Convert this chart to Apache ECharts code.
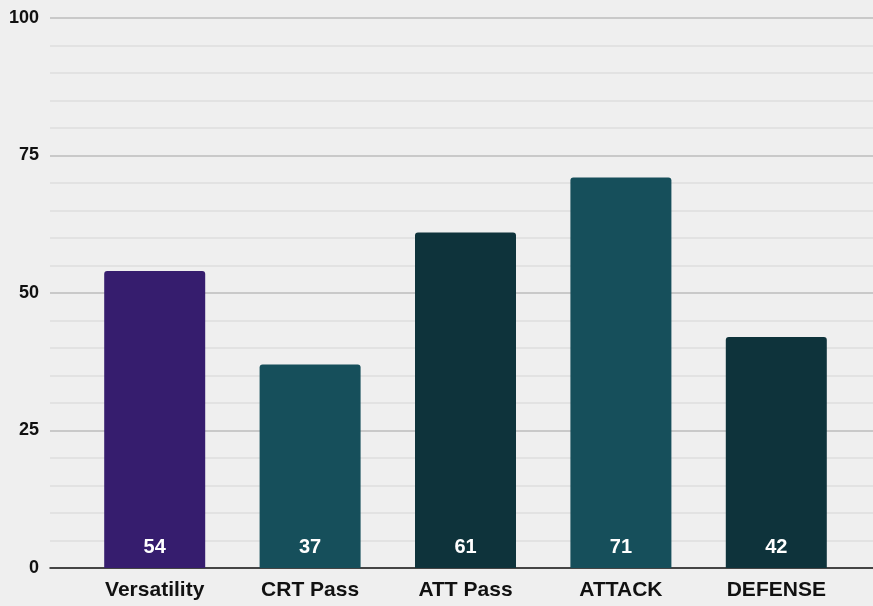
<!DOCTYPE html>
<html>
<head>
<meta charset="utf-8">
<style>
  html, body { margin: 0; padding: 0; background: #efefef; }
  #chart { width: 873px; height: 606px; }
</style>
<script src="https://cdn.jsdelivr.net/npm/echarts@6/dist/echarts.min.js"></script>
</head>
<body>
<div id="chart"></div>
<script>
var categories = ['Versatility', 'CRT Pass', 'ATT Pass', 'ATTACK', 'DEFENSE'];
var values = [54, 37, 61, 71, 42];
var barColors = ['#361d6e', '#164f5b', '#0e333b', '#164f5b', '#0e333b'];
var yTicks = [0, 25, 50, 75, 100];

var chart = echarts.init(document.getElementById('chart'));

var option = {
    backgroundColor: '#efefef',
    animation: false,
    grid: [
        // grid 0: only the gridlines + y labels across the full width
        { left: 50, right: 0, top: 18, bottom: 38 },
        // grid 1: the bars
        { left: 77, right: 19, top: 18, bottom: 38 }
    ],
    xAxis: [
        {
            gridIndex: 0,
            type: 'category',
            data: [''],
            axisLine: { show: true, lineStyle: { color: '#1a1a1a', width: 1.5 } },
            axisTick: { show: false },
            axisLabel: { show: false }
        },
        {
            gridIndex: 1,
            type: 'category',
            data: categories,
            axisLine: { show: false },
            axisTick: { show: false },
            axisLabel: {
                margin: 12,
                color: '#111',
                fontSize: 21,
                fontWeight: 'bold',
                fontFamily: 'Liberation Sans, Arial, sans-serif'
            }
        }
    ],
    yAxis: [
        {
            gridIndex: 0,
            type: 'value',
            min: yTicks[0],
            max: yTicks[yTicks.length - 1],
            interval: 25,
            axisLine: { show: false },
            axisTick: { show: false },
            axisLabel: {
                margin: 11,
                color: '#111',
                fontSize: 18,
                fontWeight: 'bold',
                fontFamily: 'Liberation Sans Narrow, Liberation Sans, sans-serif'
            },
            splitLine: { show: true, lineStyle: { color: '#bdbdbd', width: 1.5 } },
            minorTick: { show: false, splitNumber: 5 },
            minorSplitLine: { show: true, lineStyle: { color: '#dedede', width: 1.5 } }
        },
        {
            gridIndex: 1,
            type: 'value',
            min: 0,
            max: 100,
            show: false,
            splitLine: { show: false }
        }
    ],
    series: [
        {
            type: 'bar',
            xAxisIndex: 1,
            yAxisIndex: 1,
            barWidth: 101,
            data: values.map(function (v, i) {
                return { value: v, itemStyle: { color: barColors[i] } };
            }),
            itemStyle: { borderRadius: [3, 3, 0, 0] },
            label: {
                show: true,
                position: 'insideBottom',
                distance: 11,
                color: '#ffffff',
                fontSize: 20,
                fontWeight: 'bold',
                fontFamily: 'Liberation Sans, Arial, sans-serif'
            }
        }
    ]
};

chart.setOption(option);
</script>
</body>
</html>
